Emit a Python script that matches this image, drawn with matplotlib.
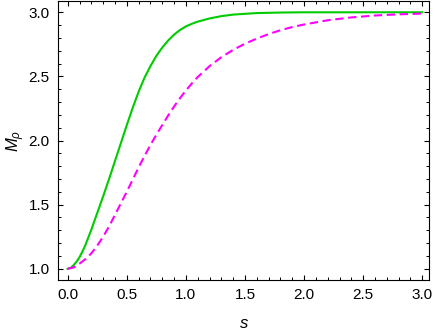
import numpy as np
import matplotlib
matplotlib.use("Agg")
import matplotlib.pyplot as plt
from matplotlib.ticker import MultipleLocator

# values
s_green = [0.0, 0.025, 0.05, 0.075, 0.1, 0.125, 0.15, 0.175, 0.2, 0.25, 0.3, 0.35, 0.4,
           0.45, 0.5, 0.55, 0.6, 0.65, 0.7, 0.75, 0.8, 0.85, 0.9, 0.95, 1.0, 1.05, 1.1,
           1.2, 1.3, 1.4, 1.6, 1.8, 2.0, 3.0]
m_green = [1.0, 1.007, 1.028, 1.055, 1.09, 1.135, 1.185, 1.245, 1.305, 1.435, 1.565, 1.70, 1.84,
           1.98, 2.12, 2.255, 2.38, 2.49, 2.58, 2.66, 2.725, 2.78, 2.826, 2.862, 2.89, 2.91, 2.927,
           2.952, 2.97, 2.982, 2.994, 2.998, 3.0, 3.0]

s_magenta = [0.0, 0.05, 0.1, 0.15, 0.2, 0.25, 0.3, 0.35, 0.4, 0.45, 0.5, 0.55, 0.6, 0.65,
             0.7, 0.75, 0.8, 0.85, 0.9, 0.95, 1.0, 1.05, 1.1, 1.2, 1.3, 1.4, 1.5, 1.6, 1.7,
             1.8, 1.9, 2.0, 2.2, 2.4, 2.6, 2.8, 3.0]
m_magenta = [1.0, 1.01, 1.04, 1.075, 1.12, 1.18, 1.25, 1.33, 1.42, 1.51, 1.60, 1.695, 1.79, 1.88,
             1.965, 2.045, 2.12, 2.195, 2.265, 2.33, 2.39, 2.445, 2.495, 2.58, 2.65, 2.707, 2.755,
             2.795, 2.83, 2.86, 2.885, 2.905, 2.938, 2.96, 2.975, 2.984, 2.99]

plt.rcParams['font.family'] = ['Liberation Sans', 'DejaVu Sans']
plt.rcParams['mathtext.fontset'] = 'custom'
plt.rcParams['mathtext.rm'] = 'Liberation Sans'
plt.rcParams['mathtext.it'] = 'Liberation Sans:italic'

fig = plt.figure(figsize=(4.36, 3.35), dpi=100)
ax = fig.add_axes([0.133, 0.164, 0.851, 0.833])

ax.plot(s_green, m_green, color='#00cc00', lw=1.5)
ax.plot(s_magenta, m_magenta, color='#ff00ff', lw=1.5, dashes=(4, 2.2))

ax.set_xlim(-0.082, 3.057)
ax.set_ylim(0.912, 3.088)
ax.xaxis.set_major_locator(MultipleLocator(0.5))
ax.xaxis.set_minor_locator(MultipleLocator(0.1))
ax.yaxis.set_major_locator(MultipleLocator(0.5))
ax.yaxis.set_minor_locator(MultipleLocator(0.1))
ax.tick_params(which='both', direction='in', top=True, right=True, labelsize=11, pad=6)
ax.tick_params(which='major', length=3.5, width=0.8)
ax.tick_params(which='minor', length=2, width=0.7)
for sp in ax.spines.values():
    sp.set_linewidth(0.8)

ax.set_xlabel('$s$', fontsize=12, labelpad=10)
ax.set_ylabel(r'$M_\rho$', fontsize=12, labelpad=1)

fig.savefig('out.png', dpi=100)
